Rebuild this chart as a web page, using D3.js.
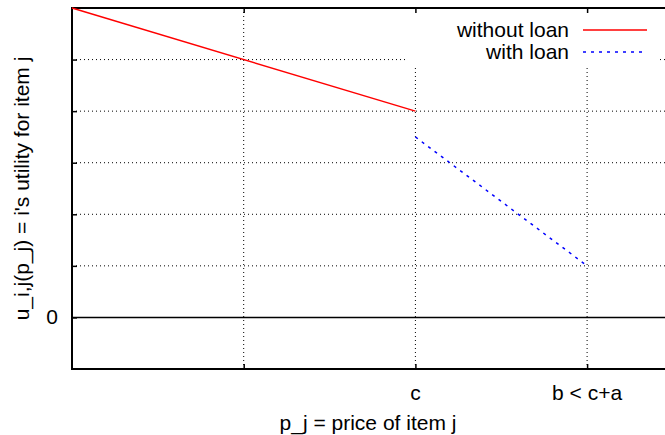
<!DOCTYPE html>
<html>
<head>
<meta charset="utf-8">
<script src="https://cdn.jsdelivr.net/npm/d3@7"></script>
<style>
  body { margin: 0; background: #fff; }
  svg text { font-family: "Liberation Sans", Arial, sans-serif; font-size: 21px; fill: #000; }
</style>
</head>
<body>
<div id="vis-holder"></div>
<script>
// Data: price (x) in units of grid steps, utility (y) in grid steps
const withoutLoanX = [0, 2];
const withoutLoanY = [6, 4];
const withLoanX = [2, 3];
const withLoanY = [3.5, 1];

const xTicks = [1, 2, 3];
const xTickLabels = ["", "c", "b < c+a"];
const yTicks = [0, 1, 2, 3, 4, 5];
const yTickLabels = ["0", "", "", "", "", ""];

const seriesNames = ["without loan", "with loan"];
const seriesColors = ["#ff0000", "#0000ff"];

// Set margins and dimensions
const width = 665;
const height = 435;
const margin = { top: 8, right: 0, bottom: 66, left: 72 };

const svg = d3.select("#vis-holder")
              .append("svg")
              .attr("width", width)
              .attr("height", height);

// Scales (the plot continues past the right edge of the picture)
const x = d3.scaleLinear()
            .domain([0, 1])
            .range([margin.left, margin.left + 171.7]);

const y = d3.scaleLinear()
            .domain([-1, 6])
            .range([height - margin.bottom, margin.top]);

const x0 = margin.left, x1 = width + 5;
const yTop = y(6), yBot = y(-1);

// Grid lines (dotted)
svg.append("g")
   .selectAll("line")
   .data(yTicks.filter(d => d !== 0))
   .enter()
   .append("line")
     .attr("x1", x0).attr("x2", x1)
     .attr("y1", d => y(d)).attr("y2", d => y(d))
     .attr("stroke", "#000")
     .attr("stroke-width", 1)
     .attr("stroke-dasharray", "1,3");

svg.append("g")
   .selectAll("line")
   .data(xTicks)
   .enter()
   .append("line")
     .attr("x1", d => x(d)).attr("x2", d => x(d))
     .attr("y1", yTop).attr("y2", yBot)
     .attr("stroke", "#000")
     .attr("stroke-width", 1)
     .attr("stroke-dasharray", "1,3");

// Legend box covers the grid
svg.append("rect")
   .attr("x", 408).attr("y", yTop + 1)
   .attr("width", 252).attr("height", 56)
   .attr("fill", "#fff");

// Zero line (solid)
svg.append("line")
   .attr("x1", x0).attr("x2", x1)
   .attr("y1", y(0)).attr("y2", y(0))
   .attr("stroke", "#000")
   .attr("stroke-width", 1.5);

// Axes with ticks on both sides
const xAxisBottom = d3.axisTop(x).tickValues(xTicks).tickSize(5).tickFormat("");
const xAxisTop = d3.axisBottom(x).tickValues(xTicks).tickSize(5).tickFormat("");
const yAxisLeft = d3.axisRight(y).tickValues(yTicks).tickSize(5).tickFormat("");

svg.append("g").attr("transform", `translate(0,${yBot})`).call(xAxisBottom)
   .call(g => g.select(".domain").remove())
   .selectAll("line").attr("stroke-width", 1.5);
svg.append("g").attr("transform", `translate(0,${yTop})`).call(xAxisTop)
   .call(g => g.select(".domain").remove())
   .selectAll("line").attr("stroke-width", 1.5);
svg.append("g").attr("transform", `translate(${x0},0)`).call(yAxisLeft)
   .call(g => g.select(".domain").remove())
   .selectAll("line").attr("stroke-width", 1.5);

// Border (left, top, bottom)
svg.append("path")
   .attr("d", `M${x1},${yTop}H${x0}V${yBot}H${x1}`)
   .attr("fill", "none")
   .attr("stroke", "#000")
   .attr("stroke-width", 2);

// Tick labels
svg.append("g")
   .selectAll("text")
   .data(xTicks)
   .enter()
   .append("text")
     .attr("x", d => x(d))
     .attr("y", 400)
     .attr("text-anchor", "middle")
     .text((d, i) => xTickLabels[i]);

svg.append("g")
   .selectAll("text")
   .data(yTicks)
   .enter()
   .append("text")
     .attr("x", 58)
     .attr("y", d => y(d) + 7)
     .attr("text-anchor", "end")
     .text((d, i) => yTickLabels[i]);

// Axis titles
svg.append("text")
   .attr("x", 368)
   .attr("y", 430)
   .attr("text-anchor", "middle")
   .text("p_j = price of item j");

svg.append("text")
   .attr("transform", `translate(29,${(yTop + yBot) / 2}) rotate(-90)`)
   .attr("text-anchor", "middle")
   .text("u_i,j(p_j) = i's utility for item j");

// Lines
const line = d3.line().x(d => x(d[0])).y(d => y(d[1]));

svg.append("path")
   .datum(d3.zip(withoutLoanX, withoutLoanY))
   .attr("d", line)
   .attr("fill", "none")
   .attr("stroke", seriesColors[0])
   .attr("stroke-width", 1.5);

svg.append("path")
   .datum(d3.zip(withLoanX, withLoanY))
   .attr("d", line)
   .attr("fill", "none")
   .attr("stroke", seriesColors[1])
   .attr("stroke-width", 1.5)
   .attr("stroke-dasharray", "3,5");

// Legend
const legend = svg.append("g");
seriesNames.forEach((name, i) => {
  const ly = 30 + i * 22;
  legend.append("text")
        .attr("x", 569).attr("y", ly + 7)
        .attr("text-anchor", "end")
        .text(name);
  legend.append("line")
        .attr("x1", 583).attr("x2", 647)
        .attr("y1", ly).attr("y2", ly)
        .attr("stroke", seriesColors[i])
        .attr("stroke-width", 1.5)
        .attr("stroke-dasharray", i === 1 ? "3,5" : null);
});
</script>
</body>
</html>
